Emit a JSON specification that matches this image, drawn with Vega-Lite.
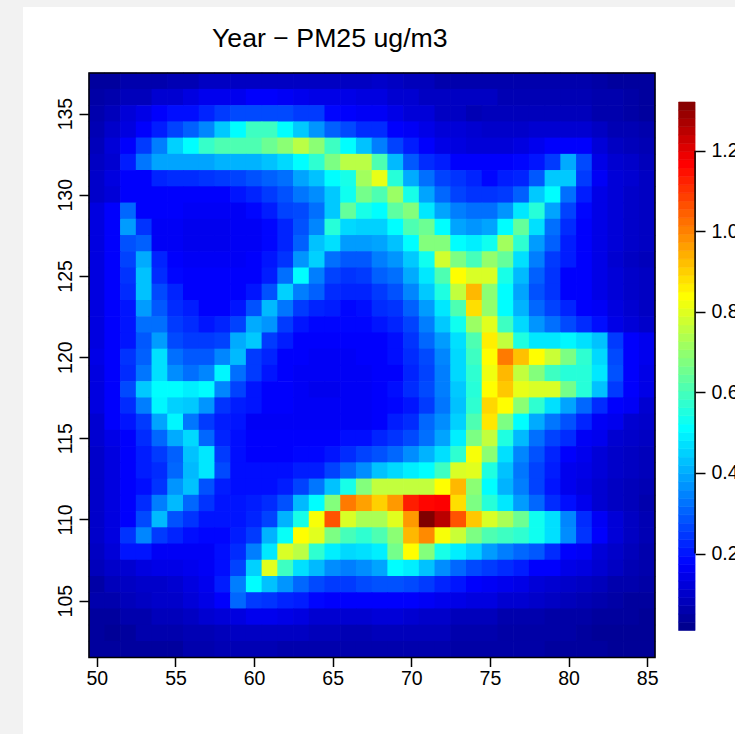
{"$schema":"https://vega.github.io/schema/vega-lite/v6.json","width":712,"height":727,"autosize":{"type":"none"},"padding":{"left":23,"top":7,"right":0,"bottom":0},"background":"#f2f2f2","view":{"fill":"white","stroke":null},"title":{"text":"Year − PM25 ug/m3","anchor":"start","frame":"group","baseline":"alphabetic","offset":-67,"dx":189,"fontSize":26.7,"font":"Liberation Sans","fontWeight":"normal","color":"black"},"config":{"font":"Liberation Sans","axis":{"labelFont":"Liberation Sans","labelFontSize":19.5,"labelColor":"black","tickColor":"black","tickSize":10,"tickWidth":1.5,"grid":false,"domain":false,"title":null}},"datasets":{"cells":[
{"x":50,"y":137,"v":0.03},{"x":51,"y":137,"v":0.03},{"x":52,"y":137,"v":0.05},{"x":53,"y":137,"v":0.05},{"x":54,"y":137,"v":0.05},{"x":55,"y":137,"v":0.06},{"x":56,"y":137,"v":0.06},{"x":57,"y":137,"v":0.08},{"x":58,"y":137,"v":0.08},{"x":59,"y":137,"v":0.08},{"x":60,"y":137,"v":0.08},{"x":61,"y":137,"v":0.08},{"x":62,"y":137,"v":0.08},{"x":63,"y":137,"v":0.08},{"x":64,"y":137,"v":0.08},{"x":65,"y":137,"v":0.08},{"x":66,"y":137,"v":0.08},{"x":67,"y":137,"v":0.08},{"x":68,"y":137,"v":0.09},{"x":69,"y":137,"v":0.08},{"x":70,"y":137,"v":0.07},{"x":71,"y":137,"v":0.07},{"x":72,"y":137,"v":0.05},{"x":73,"y":137,"v":0.05},{"x":74,"y":137,"v":0.05},{"x":75,"y":137,"v":0.05},{"x":76,"y":137,"v":0.05},{"x":77,"y":137,"v":0.05},{"x":78,"y":137,"v":0.05},{"x":79,"y":137,"v":0.05},{"x":80,"y":137,"v":0.05},{"x":81,"y":137,"v":0.05},{"x":82,"y":137,"v":0.04},{"x":83,"y":137,"v":0.03},{"x":84,"y":137,"v":0.03},{"x":85,"y":137,"v":0.03},
{"x":50,"y":136,"v":0.04},{"x":51,"y":136,"v":0.05},{"x":52,"y":136,"v":0.07},{"x":53,"y":136,"v":0.07},{"x":54,"y":136,"v":0.1},{"x":55,"y":136,"v":0.1},{"x":56,"y":136,"v":0.12},{"x":57,"y":136,"v":0.14},{"x":58,"y":136,"v":0.14},{"x":59,"y":136,"v":0.14},{"x":60,"y":136,"v":0.16},{"x":61,"y":136,"v":0.16},{"x":62,"y":136,"v":0.15},{"x":63,"y":136,"v":0.14},{"x":64,"y":136,"v":0.13},{"x":65,"y":136,"v":0.13},{"x":66,"y":136,"v":0.13},{"x":67,"y":136,"v":0.12},{"x":68,"y":136,"v":0.12},{"x":69,"y":136,"v":0.1},{"x":70,"y":136,"v":0.1},{"x":71,"y":136,"v":0.08},{"x":72,"y":136,"v":0.08},{"x":73,"y":136,"v":0.08},{"x":74,"y":136,"v":0.08},{"x":75,"y":136,"v":0.08},{"x":76,"y":136,"v":0.06},{"x":77,"y":136,"v":0.06},{"x":78,"y":136,"v":0.06},{"x":79,"y":136,"v":0.06},{"x":80,"y":136,"v":0.06},{"x":81,"y":136,"v":0.06},{"x":82,"y":136,"v":0.05},{"x":83,"y":136,"v":0.05},{"x":84,"y":136,"v":0.04},{"x":85,"y":136,"v":0.03},
{"x":50,"y":135,"v":0.05},{"x":51,"y":135,"v":0.07},{"x":52,"y":135,"v":0.11},{"x":53,"y":135,"v":0.13},{"x":54,"y":135,"v":0.16},{"x":55,"y":135,"v":0.18},{"x":56,"y":135,"v":0.18},{"x":57,"y":135,"v":0.21},{"x":58,"y":135,"v":0.24},{"x":59,"y":135,"v":0.26},{"x":60,"y":135,"v":0.26},{"x":61,"y":135,"v":0.26},{"x":62,"y":135,"v":0.26},{"x":63,"y":135,"v":0.24},{"x":64,"y":135,"v":0.24},{"x":65,"y":135,"v":0.17},{"x":66,"y":135,"v":0.16},{"x":67,"y":135,"v":0.15},{"x":68,"y":135,"v":0.15},{"x":69,"y":135,"v":0.13},{"x":70,"y":135,"v":0.11},{"x":71,"y":135,"v":0.11},{"x":72,"y":135,"v":0.08},{"x":73,"y":135,"v":0.08},{"x":74,"y":135,"v":0.06},{"x":75,"y":135,"v":0.07},{"x":76,"y":135,"v":0.07},{"x":77,"y":135,"v":0.07},{"x":78,"y":135,"v":0.07},{"x":79,"y":135,"v":0.07},{"x":80,"y":135,"v":0.07},{"x":81,"y":135,"v":0.07},{"x":82,"y":135,"v":0.05},{"x":83,"y":135,"v":0.05},{"x":84,"y":135,"v":0.04},{"x":85,"y":135,"v":0.03},
{"x":50,"y":134,"v":0.06},{"x":51,"y":134,"v":0.09},{"x":52,"y":134,"v":0.12},{"x":53,"y":134,"v":0.16},{"x":54,"y":134,"v":0.2},{"x":55,"y":134,"v":0.25},{"x":56,"y":134,"v":0.29},{"x":57,"y":134,"v":0.34},{"x":58,"y":134,"v":0.43},{"x":59,"y":134,"v":0.5},{"x":60,"y":134,"v":0.58},{"x":61,"y":134,"v":0.58},{"x":62,"y":134,"v":0.5},{"x":63,"y":134,"v":0.43},{"x":64,"y":134,"v":0.36},{"x":65,"y":134,"v":0.29},{"x":66,"y":134,"v":0.26},{"x":67,"y":134,"v":0.22},{"x":68,"y":134,"v":0.22},{"x":69,"y":134,"v":0.16},{"x":70,"y":134,"v":0.15},{"x":71,"y":134,"v":0.13},{"x":72,"y":134,"v":0.11},{"x":73,"y":134,"v":0.11},{"x":74,"y":134,"v":0.1},{"x":75,"y":134,"v":0.09},{"x":76,"y":134,"v":0.09},{"x":77,"y":134,"v":0.09},{"x":78,"y":134,"v":0.1},{"x":79,"y":134,"v":0.1},{"x":80,"y":134,"v":0.1},{"x":81,"y":134,"v":0.1},{"x":82,"y":134,"v":0.08},{"x":83,"y":134,"v":0.06},{"x":84,"y":134,"v":0.06},{"x":85,"y":134,"v":0.05},
{"x":50,"y":133,"v":0.07},{"x":51,"y":133,"v":0.11},{"x":52,"y":133,"v":0.16},{"x":53,"y":133,"v":0.24},{"x":54,"y":133,"v":0.33},{"x":55,"y":133,"v":0.44},{"x":56,"y":133,"v":0.5},{"x":57,"y":133,"v":0.57},{"x":58,"y":133,"v":0.6},{"x":59,"y":133,"v":0.6},{"x":60,"y":133,"v":0.6},{"x":61,"y":133,"v":0.64},{"x":62,"y":133,"v":0.68},{"x":63,"y":133,"v":0.74},{"x":64,"y":133,"v":0.68},{"x":65,"y":133,"v":0.58},{"x":66,"y":133,"v":0.5},{"x":67,"y":133,"v":0.42},{"x":68,"y":133,"v":0.33},{"x":69,"y":133,"v":0.25},{"x":70,"y":133,"v":0.2},{"x":71,"y":133,"v":0.16},{"x":72,"y":133,"v":0.13},{"x":73,"y":133,"v":0.12},{"x":74,"y":133,"v":0.11},{"x":75,"y":133,"v":0.11},{"x":76,"y":133,"v":0.11},{"x":77,"y":133,"v":0.12},{"x":78,"y":133,"v":0.14},{"x":79,"y":133,"v":0.16},{"x":80,"y":133,"v":0.16},{"x":81,"y":133,"v":0.16},{"x":82,"y":133,"v":0.11},{"x":83,"y":133,"v":0.08},{"x":84,"y":133,"v":0.07},{"x":85,"y":133,"v":0.06},
{"x":50,"y":132,"v":0.08},{"x":51,"y":132,"v":0.1},{"x":52,"y":132,"v":0.2},{"x":53,"y":132,"v":0.32},{"x":54,"y":132,"v":0.38},{"x":55,"y":132,"v":0.38},{"x":56,"y":132,"v":0.38},{"x":57,"y":132,"v":0.38},{"x":58,"y":132,"v":0.4},{"x":59,"y":132,"v":0.4},{"x":60,"y":132,"v":0.4},{"x":61,"y":132,"v":0.42},{"x":62,"y":132,"v":0.45},{"x":63,"y":132,"v":0.5},{"x":64,"y":132,"v":0.56},{"x":65,"y":132,"v":0.66},{"x":66,"y":132,"v":0.74},{"x":67,"y":132,"v":0.74},{"x":68,"y":132,"v":0.6},{"x":69,"y":132,"v":0.41},{"x":70,"y":132,"v":0.28},{"x":71,"y":132,"v":0.22},{"x":72,"y":132,"v":0.2},{"x":73,"y":132,"v":0.16},{"x":74,"y":132,"v":0.16},{"x":75,"y":132,"v":0.16},{"x":76,"y":132,"v":0.16},{"x":77,"y":132,"v":0.17},{"x":78,"y":132,"v":0.19},{"x":79,"y":132,"v":0.24},{"x":80,"y":132,"v":0.39},{"x":81,"y":132,"v":0.26},{"x":82,"y":132,"v":0.13},{"x":83,"y":132,"v":0.1},{"x":84,"y":132,"v":0.09},{"x":85,"y":132,"v":0.07},
{"x":50,"y":131,"v":0.09},{"x":51,"y":131,"v":0.12},{"x":52,"y":131,"v":0.16},{"x":53,"y":131,"v":0.16},{"x":54,"y":131,"v":0.21},{"x":55,"y":131,"v":0.22},{"x":56,"y":131,"v":0.22},{"x":57,"y":131,"v":0.23},{"x":58,"y":131,"v":0.24},{"x":59,"y":131,"v":0.25},{"x":60,"y":131,"v":0.27},{"x":61,"y":131,"v":0.29},{"x":62,"y":131,"v":0.31},{"x":63,"y":131,"v":0.38},{"x":64,"y":131,"v":0.42},{"x":65,"y":131,"v":0.5},{"x":66,"y":131,"v":0.53},{"x":67,"y":131,"v":0.71},{"x":68,"y":131,"v":0.8},{"x":69,"y":131,"v":0.55},{"x":70,"y":131,"v":0.39},{"x":71,"y":131,"v":0.31},{"x":72,"y":131,"v":0.25},{"x":73,"y":131,"v":0.23},{"x":74,"y":131,"v":0.21},{"x":75,"y":131,"v":0.17},{"x":76,"y":131,"v":0.2},{"x":77,"y":131,"v":0.21},{"x":78,"y":131,"v":0.28},{"x":79,"y":131,"v":0.43},{"x":80,"y":131,"v":0.43},{"x":81,"y":131,"v":0.24},{"x":82,"y":131,"v":0.15},{"x":83,"y":131,"v":0.11},{"x":84,"y":131,"v":0.1},{"x":85,"y":131,"v":0.08},
{"x":50,"y":130,"v":0.09},{"x":51,"y":130,"v":0.11},{"x":52,"y":130,"v":0.16},{"x":53,"y":130,"v":0.16},{"x":54,"y":130,"v":0.16},{"x":55,"y":130,"v":0.16},{"x":56,"y":130,"v":0.16},{"x":57,"y":130,"v":0.16},{"x":58,"y":130,"v":0.16},{"x":59,"y":130,"v":0.19},{"x":60,"y":130,"v":0.21},{"x":61,"y":130,"v":0.24},{"x":62,"y":130,"v":0.27},{"x":63,"y":130,"v":0.32},{"x":64,"y":130,"v":0.35},{"x":65,"y":130,"v":0.43},{"x":66,"y":130,"v":0.52},{"x":67,"y":130,"v":0.65},{"x":68,"y":130,"v":0.6},{"x":69,"y":130,"v":0.7},{"x":70,"y":130,"v":0.53},{"x":71,"y":130,"v":0.38},{"x":72,"y":130,"v":0.3},{"x":73,"y":130,"v":0.25},{"x":74,"y":130,"v":0.23},{"x":75,"y":130,"v":0.23},{"x":76,"y":130,"v":0.24},{"x":77,"y":130,"v":0.29},{"x":78,"y":130,"v":0.43},{"x":79,"y":130,"v":0.5},{"x":80,"y":130,"v":0.31},{"x":81,"y":130,"v":0.2},{"x":82,"y":130,"v":0.13},{"x":83,"y":130,"v":0.11},{"x":84,"y":130,"v":0.09},{"x":85,"y":130,"v":0.08},
{"x":50,"y":129,"v":0.12},{"x":51,"y":129,"v":0.16},{"x":52,"y":129,"v":0.3},{"x":53,"y":129,"v":0.16},{"x":54,"y":129,"v":0.16},{"x":55,"y":129,"v":0.16},{"x":56,"y":129,"v":0.15},{"x":57,"y":129,"v":0.15},{"x":58,"y":129,"v":0.15},{"x":59,"y":129,"v":0.15},{"x":60,"y":129,"v":0.17},{"x":61,"y":129,"v":0.2},{"x":62,"y":129,"v":0.25},{"x":63,"y":129,"v":0.26},{"x":64,"y":129,"v":0.31},{"x":65,"y":129,"v":0.43},{"x":66,"y":129,"v":0.63},{"x":67,"y":129,"v":0.53},{"x":68,"y":129,"v":0.5},{"x":69,"y":129,"v":0.62},{"x":70,"y":129,"v":0.67},{"x":71,"y":129,"v":0.47},{"x":72,"y":129,"v":0.38},{"x":73,"y":129,"v":0.33},{"x":74,"y":129,"v":0.31},{"x":75,"y":129,"v":0.31},{"x":76,"y":129,"v":0.36},{"x":77,"y":129,"v":0.47},{"x":78,"y":129,"v":0.55},{"x":79,"y":129,"v":0.38},{"x":80,"y":129,"v":0.25},{"x":81,"y":129,"v":0.17},{"x":82,"y":129,"v":0.13},{"x":83,"y":129,"v":0.11},{"x":84,"y":129,"v":0.09},{"x":85,"y":129,"v":0.08},
{"x":50,"y":128,"v":0.12},{"x":51,"y":128,"v":0.16},{"x":52,"y":128,"v":0.37},{"x":53,"y":128,"v":0.23},{"x":54,"y":128,"v":0.15},{"x":55,"y":128,"v":0.15},{"x":56,"y":128,"v":0.14},{"x":57,"y":128,"v":0.14},{"x":58,"y":128,"v":0.14},{"x":59,"y":128,"v":0.15},{"x":60,"y":128,"v":0.15},{"x":61,"y":128,"v":0.17},{"x":62,"y":128,"v":0.21},{"x":63,"y":128,"v":0.27},{"x":64,"y":128,"v":0.34},{"x":65,"y":128,"v":0.55},{"x":66,"y":128,"v":0.45},{"x":67,"y":128,"v":0.44},{"x":68,"y":128,"v":0.44},{"x":69,"y":128,"v":0.5},{"x":70,"y":128,"v":0.6},{"x":71,"y":128,"v":0.64},{"x":72,"y":128,"v":0.5},{"x":73,"y":128,"v":0.38},{"x":74,"y":128,"v":0.36},{"x":75,"y":128,"v":0.38},{"x":76,"y":128,"v":0.5},{"x":77,"y":128,"v":0.63},{"x":78,"y":128,"v":0.46},{"x":79,"y":128,"v":0.31},{"x":80,"y":128,"v":0.22},{"x":81,"y":128,"v":0.16},{"x":82,"y":128,"v":0.13},{"x":83,"y":128,"v":0.11},{"x":84,"y":128,"v":0.09},{"x":85,"y":128,"v":0.08},
{"x":50,"y":127,"v":0.12},{"x":51,"y":127,"v":0.16},{"x":52,"y":127,"v":0.27},{"x":53,"y":127,"v":0.29},{"x":54,"y":127,"v":0.15},{"x":55,"y":127,"v":0.15},{"x":56,"y":127,"v":0.14},{"x":57,"y":127,"v":0.14},{"x":58,"y":127,"v":0.14},{"x":59,"y":127,"v":0.15},{"x":60,"y":127,"v":0.15},{"x":61,"y":127,"v":0.17},{"x":62,"y":127,"v":0.21},{"x":63,"y":127,"v":0.29},{"x":64,"y":127,"v":0.42},{"x":65,"y":127,"v":0.46},{"x":66,"y":127,"v":0.37},{"x":67,"y":127,"v":0.37},{"x":68,"y":127,"v":0.38},{"x":69,"y":127,"v":0.42},{"x":70,"y":127,"v":0.5},{"x":71,"y":127,"v":0.67},{"x":72,"y":127,"v":0.67},{"x":73,"y":127,"v":0.5},{"x":74,"y":127,"v":0.48},{"x":75,"y":127,"v":0.52},{"x":76,"y":127,"v":0.71},{"x":77,"y":127,"v":0.56},{"x":78,"y":127,"v":0.37},{"x":79,"y":127,"v":0.29},{"x":80,"y":127,"v":0.2},{"x":81,"y":127,"v":0.16},{"x":82,"y":127,"v":0.13},{"x":83,"y":127,"v":0.11},{"x":84,"y":127,"v":0.09},{"x":85,"y":127,"v":0.08},
{"x":50,"y":126,"v":0.12},{"x":51,"y":126,"v":0.16},{"x":52,"y":126,"v":0.25},{"x":53,"y":126,"v":0.39},{"x":54,"y":126,"v":0.21},{"x":55,"y":126,"v":0.16},{"x":56,"y":126,"v":0.15},{"x":57,"y":126,"v":0.15},{"x":58,"y":126,"v":0.15},{"x":59,"y":126,"v":0.15},{"x":60,"y":126,"v":0.16},{"x":61,"y":126,"v":0.19},{"x":62,"y":126,"v":0.23},{"x":63,"y":126,"v":0.36},{"x":64,"y":126,"v":0.44},{"x":65,"y":126,"v":0.31},{"x":66,"y":126,"v":0.28},{"x":67,"y":126,"v":0.28},{"x":68,"y":126,"v":0.33},{"x":69,"y":126,"v":0.36},{"x":70,"y":126,"v":0.43},{"x":71,"y":126,"v":0.52},{"x":72,"y":126,"v":0.77},{"x":73,"y":126,"v":0.66},{"x":74,"y":126,"v":0.59},{"x":75,"y":126,"v":0.69},{"x":76,"y":126,"v":0.63},{"x":77,"y":126,"v":0.46},{"x":78,"y":126,"v":0.33},{"x":79,"y":126,"v":0.24},{"x":80,"y":126,"v":0.2},{"x":81,"y":126,"v":0.16},{"x":82,"y":126,"v":0.13},{"x":83,"y":126,"v":0.1},{"x":84,"y":126,"v":0.08},{"x":85,"y":126,"v":0.07},
{"x":50,"y":125,"v":0.12},{"x":51,"y":125,"v":0.16},{"x":52,"y":125,"v":0.23},{"x":53,"y":125,"v":0.42},{"x":54,"y":125,"v":0.22},{"x":55,"y":125,"v":0.17},{"x":56,"y":125,"v":0.16},{"x":57,"y":125,"v":0.16},{"x":58,"y":125,"v":0.16},{"x":59,"y":125,"v":0.16},{"x":60,"y":125,"v":0.16},{"x":61,"y":125,"v":0.2},{"x":62,"y":125,"v":0.31},{"x":63,"y":125,"v":0.5},{"x":64,"y":125,"v":0.33},{"x":65,"y":125,"v":0.25},{"x":66,"y":125,"v":0.23},{"x":67,"y":125,"v":0.24},{"x":68,"y":125,"v":0.29},{"x":69,"y":125,"v":0.31},{"x":70,"y":125,"v":0.39},{"x":71,"y":125,"v":0.47},{"x":72,"y":125,"v":0.6},{"x":73,"y":125,"v":0.83},{"x":74,"y":125,"v":0.78},{"x":75,"y":125,"v":0.78},{"x":76,"y":125,"v":0.53},{"x":77,"y":125,"v":0.41},{"x":78,"y":125,"v":0.29},{"x":79,"y":125,"v":0.23},{"x":80,"y":125,"v":0.16},{"x":81,"y":125,"v":0.16},{"x":82,"y":125,"v":0.13},{"x":83,"y":125,"v":0.11},{"x":84,"y":125,"v":0.09},{"x":85,"y":125,"v":0.08},
{"x":50,"y":124,"v":0.12},{"x":51,"y":124,"v":0.16},{"x":52,"y":124,"v":0.22},{"x":53,"y":124,"v":0.42},{"x":54,"y":124,"v":0.26},{"x":55,"y":124,"v":0.21},{"x":56,"y":124,"v":0.16},{"x":57,"y":124,"v":0.16},{"x":58,"y":124,"v":0.16},{"x":59,"y":124,"v":0.16},{"x":60,"y":124,"v":0.19},{"x":61,"y":124,"v":0.27},{"x":62,"y":124,"v":0.44},{"x":63,"y":124,"v":0.33},{"x":64,"y":124,"v":0.29},{"x":65,"y":124,"v":0.22},{"x":66,"y":124,"v":0.21},{"x":67,"y":124,"v":0.21},{"x":68,"y":124,"v":0.24},{"x":69,"y":124,"v":0.27},{"x":70,"y":124,"v":0.34},{"x":71,"y":124,"v":0.43},{"x":72,"y":124,"v":0.54},{"x":73,"y":124,"v":0.75},{"x":74,"y":124,"v":0.92},{"x":75,"y":124,"v":0.68},{"x":76,"y":124,"v":0.5},{"x":77,"y":124,"v":0.38},{"x":78,"y":124,"v":0.27},{"x":79,"y":124,"v":0.23},{"x":80,"y":124,"v":0.16},{"x":81,"y":124,"v":0.16},{"x":82,"y":124,"v":0.13},{"x":83,"y":124,"v":0.11},{"x":84,"y":124,"v":0.09},{"x":85,"y":124,"v":0.08},
{"x":50,"y":123,"v":0.12},{"x":51,"y":123,"v":0.16},{"x":52,"y":123,"v":0.19},{"x":53,"y":123,"v":0.37},{"x":54,"y":123,"v":0.28},{"x":55,"y":123,"v":0.22},{"x":56,"y":123,"v":0.2},{"x":57,"y":123,"v":0.16},{"x":58,"y":123,"v":0.16},{"x":59,"y":123,"v":0.19},{"x":60,"y":123,"v":0.27},{"x":61,"y":123,"v":0.41},{"x":62,"y":123,"v":0.32},{"x":63,"y":123,"v":0.24},{"x":64,"y":123,"v":0.21},{"x":65,"y":123,"v":0.2},{"x":66,"y":123,"v":0.17},{"x":67,"y":123,"v":0.18},{"x":68,"y":123,"v":0.22},{"x":69,"y":123,"v":0.23},{"x":70,"y":123,"v":0.29},{"x":71,"y":123,"v":0.37},{"x":72,"y":123,"v":0.47},{"x":73,"y":123,"v":0.6},{"x":74,"y":123,"v":0.87},{"x":75,"y":123,"v":0.69},{"x":76,"y":123,"v":0.5},{"x":77,"y":123,"v":0.4},{"x":78,"y":123,"v":0.3},{"x":79,"y":123,"v":0.25},{"x":80,"y":123,"v":0.21},{"x":81,"y":123,"v":0.16},{"x":82,"y":123,"v":0.15},{"x":83,"y":123,"v":0.12},{"x":84,"y":123,"v":0.1},{"x":85,"y":123,"v":0.08},
{"x":50,"y":122,"v":0.12},{"x":51,"y":122,"v":0.16},{"x":52,"y":122,"v":0.19},{"x":53,"y":122,"v":0.31},{"x":54,"y":122,"v":0.31},{"x":55,"y":122,"v":0.24},{"x":56,"y":122,"v":0.22},{"x":57,"y":122,"v":0.19},{"x":58,"y":122,"v":0.21},{"x":59,"y":122,"v":0.25},{"x":60,"y":122,"v":0.39},{"x":61,"y":122,"v":0.36},{"x":62,"y":122,"v":0.24},{"x":63,"y":122,"v":0.19},{"x":64,"y":122,"v":0.17},{"x":65,"y":122,"v":0.17},{"x":66,"y":122,"v":0.17},{"x":67,"y":122,"v":0.17},{"x":68,"y":122,"v":0.19},{"x":69,"y":122,"v":0.21},{"x":70,"y":122,"v":0.25},{"x":71,"y":122,"v":0.33},{"x":72,"y":122,"v":0.43},{"x":73,"y":122,"v":0.52},{"x":74,"y":122,"v":0.7},{"x":75,"y":122,"v":0.79},{"x":76,"y":122,"v":0.58},{"x":77,"y":122,"v":0.45},{"x":78,"y":122,"v":0.36},{"x":79,"y":122,"v":0.31},{"x":80,"y":122,"v":0.26},{"x":81,"y":122,"v":0.22},{"x":82,"y":122,"v":0.18},{"x":83,"y":122,"v":0.13},{"x":84,"y":122,"v":0.11},{"x":85,"y":122,"v":0.09},
{"x":50,"y":121,"v":0.12},{"x":51,"y":121,"v":0.16},{"x":52,"y":121,"v":0.19},{"x":53,"y":121,"v":0.28},{"x":54,"y":121,"v":0.37},{"x":55,"y":121,"v":0.26},{"x":56,"y":121,"v":0.24},{"x":57,"y":121,"v":0.24},{"x":58,"y":121,"v":0.25},{"x":59,"y":121,"v":0.39},{"x":60,"y":121,"v":0.43},{"x":61,"y":121,"v":0.24},{"x":62,"y":121,"v":0.2},{"x":63,"y":121,"v":0.16},{"x":64,"y":121,"v":0.16},{"x":65,"y":121,"v":0.16},{"x":66,"y":121,"v":0.16},{"x":67,"y":121,"v":0.16},{"x":68,"y":121,"v":0.16},{"x":69,"y":121,"v":0.18},{"x":70,"y":121,"v":0.23},{"x":71,"y":121,"v":0.3},{"x":72,"y":121,"v":0.37},{"x":73,"y":121,"v":0.46},{"x":74,"y":121,"v":0.6},{"x":75,"y":121,"v":0.85},{"x":76,"y":121,"v":0.75},{"x":77,"y":121,"v":0.54},{"x":78,"y":121,"v":0.47},{"x":79,"y":121,"v":0.47},{"x":80,"y":121,"v":0.49},{"x":81,"y":121,"v":0.46},{"x":82,"y":121,"v":0.42},{"x":83,"y":121,"v":0.24},{"x":84,"y":121,"v":0.16},{"x":85,"y":121,"v":0.14},
{"x":50,"y":120,"v":0.13},{"x":51,"y":120,"v":0.16},{"x":52,"y":120,"v":0.23},{"x":53,"y":120,"v":0.29},{"x":54,"y":120,"v":0.46},{"x":55,"y":120,"v":0.31},{"x":56,"y":120,"v":0.28},{"x":57,"y":120,"v":0.28},{"x":58,"y":120,"v":0.34},{"x":59,"y":120,"v":0.41},{"x":60,"y":120,"v":0.24},{"x":61,"y":120,"v":0.21},{"x":62,"y":120,"v":0.16},{"x":63,"y":120,"v":0.16},{"x":64,"y":120,"v":0.15},{"x":65,"y":120,"v":0.15},{"x":66,"y":120,"v":0.15},{"x":67,"y":120,"v":0.16},{"x":68,"y":120,"v":0.16},{"x":69,"y":120,"v":0.18},{"x":70,"y":120,"v":0.22},{"x":71,"y":120,"v":0.26},{"x":72,"y":120,"v":0.34},{"x":73,"y":120,"v":0.45},{"x":74,"y":120,"v":0.58},{"x":75,"y":120,"v":0.83},{"x":76,"y":120,"v":1.0},{"x":77,"y":120,"v":0.91},{"x":78,"y":120,"v":0.83},{"x":79,"y":120,"v":0.76},{"x":80,"y":120,"v":0.66},{"x":81,"y":120,"v":0.56},{"x":82,"y":120,"v":0.45},{"x":83,"y":120,"v":0.26},{"x":84,"y":120,"v":0.16},{"x":85,"y":120,"v":0.14},
{"x":50,"y":119,"v":0.12},{"x":51,"y":119,"v":0.16},{"x":52,"y":119,"v":0.22},{"x":53,"y":119,"v":0.32},{"x":54,"y":119,"v":0.46},{"x":55,"y":119,"v":0.35},{"x":56,"y":119,"v":0.31},{"x":57,"y":119,"v":0.34},{"x":58,"y":119,"v":0.49},{"x":59,"y":119,"v":0.31},{"x":60,"y":119,"v":0.24},{"x":61,"y":119,"v":0.19},{"x":62,"y":119,"v":0.16},{"x":63,"y":119,"v":0.15},{"x":64,"y":119,"v":0.15},{"x":65,"y":119,"v":0.15},{"x":66,"y":119,"v":0.15},{"x":67,"y":119,"v":0.15},{"x":68,"y":119,"v":0.16},{"x":69,"y":119,"v":0.16},{"x":70,"y":119,"v":0.21},{"x":71,"y":119,"v":0.25},{"x":72,"y":119,"v":0.33},{"x":73,"y":119,"v":0.45},{"x":74,"y":119,"v":0.56},{"x":75,"y":119,"v":0.81},{"x":76,"y":119,"v":0.92},{"x":77,"y":119,"v":0.75},{"x":78,"y":119,"v":0.67},{"x":79,"y":119,"v":0.58},{"x":80,"y":119,"v":0.55},{"x":81,"y":119,"v":0.55},{"x":82,"y":119,"v":0.47},{"x":83,"y":119,"v":0.27},{"x":84,"y":119,"v":0.16},{"x":85,"y":119,"v":0.13},
{"x":50,"y":118,"v":0.12},{"x":51,"y":118,"v":0.16},{"x":52,"y":118,"v":0.26},{"x":53,"y":118,"v":0.43},{"x":54,"y":118,"v":0.5},{"x":55,"y":118,"v":0.5},{"x":56,"y":118,"v":0.48},{"x":57,"y":118,"v":0.5},{"x":58,"y":118,"v":0.34},{"x":59,"y":118,"v":0.25},{"x":60,"y":118,"v":0.19},{"x":61,"y":118,"v":0.16},{"x":62,"y":118,"v":0.16},{"x":63,"y":118,"v":0.15},{"x":64,"y":118,"v":0.14},{"x":65,"y":118,"v":0.14},{"x":66,"y":118,"v":0.15},{"x":67,"y":118,"v":0.15},{"x":68,"y":118,"v":0.16},{"x":69,"y":118,"v":0.18},{"x":70,"y":118,"v":0.22},{"x":71,"y":118,"v":0.26},{"x":72,"y":118,"v":0.33},{"x":73,"y":118,"v":0.43},{"x":74,"y":118,"v":0.55},{"x":75,"y":118,"v":0.83},{"x":76,"y":118,"v":0.9},{"x":77,"y":118,"v":0.8},{"x":78,"y":118,"v":0.78},{"x":79,"y":118,"v":0.78},{"x":80,"y":118,"v":0.65},{"x":81,"y":118,"v":0.55},{"x":82,"y":118,"v":0.42},{"x":83,"y":118,"v":0.24},{"x":84,"y":118,"v":0.16},{"x":85,"y":118,"v":0.13},
{"x":50,"y":117,"v":0.12},{"x":51,"y":117,"v":0.16},{"x":52,"y":117,"v":0.22},{"x":53,"y":117,"v":0.33},{"x":54,"y":117,"v":0.49},{"x":55,"y":117,"v":0.44},{"x":56,"y":117,"v":0.43},{"x":57,"y":117,"v":0.36},{"x":58,"y":117,"v":0.23},{"x":59,"y":117,"v":0.2},{"x":60,"y":117,"v":0.19},{"x":61,"y":117,"v":0.16},{"x":62,"y":117,"v":0.16},{"x":63,"y":117,"v":0.15},{"x":64,"y":117,"v":0.15},{"x":65,"y":117,"v":0.15},{"x":66,"y":117,"v":0.15},{"x":67,"y":117,"v":0.15},{"x":68,"y":117,"v":0.16},{"x":69,"y":117,"v":0.17},{"x":70,"y":117,"v":0.19},{"x":71,"y":117,"v":0.24},{"x":72,"y":117,"v":0.32},{"x":73,"y":117,"v":0.42},{"x":74,"y":117,"v":0.56},{"x":75,"y":117,"v":0.88},{"x":76,"y":117,"v":0.83},{"x":77,"y":117,"v":0.68},{"x":78,"y":117,"v":0.56},{"x":79,"y":117,"v":0.46},{"x":80,"y":117,"v":0.38},{"x":81,"y":117,"v":0.3},{"x":82,"y":117,"v":0.22},{"x":83,"y":117,"v":0.16},{"x":84,"y":117,"v":0.15},{"x":85,"y":117,"v":0.1},
{"x":50,"y":116,"v":0.1},{"x":51,"y":116,"v":0.16},{"x":52,"y":116,"v":0.19},{"x":53,"y":116,"v":0.24},{"x":54,"y":116,"v":0.38},{"x":55,"y":116,"v":0.49},{"x":56,"y":116,"v":0.32},{"x":57,"y":116,"v":0.24},{"x":58,"y":116,"v":0.2},{"x":59,"y":116,"v":0.19},{"x":60,"y":116,"v":0.15},{"x":61,"y":116,"v":0.15},{"x":62,"y":116,"v":0.15},{"x":63,"y":116,"v":0.15},{"x":64,"y":116,"v":0.15},{"x":65,"y":116,"v":0.15},{"x":66,"y":116,"v":0.15},{"x":67,"y":116,"v":0.15},{"x":68,"y":116,"v":0.16},{"x":69,"y":116,"v":0.2},{"x":70,"y":116,"v":0.22},{"x":71,"y":116,"v":0.3},{"x":72,"y":116,"v":0.35},{"x":73,"y":116,"v":0.44},{"x":74,"y":116,"v":0.6},{"x":75,"y":116,"v":0.86},{"x":76,"y":116,"v":0.66},{"x":77,"y":116,"v":0.5},{"x":78,"y":116,"v":0.39},{"x":79,"y":116,"v":0.32},{"x":80,"y":116,"v":0.27},{"x":81,"y":116,"v":0.21},{"x":82,"y":116,"v":0.15},{"x":83,"y":116,"v":0.14},{"x":84,"y":116,"v":0.1},{"x":85,"y":116,"v":0.09},
{"x":50,"y":115,"v":0.1},{"x":51,"y":115,"v":0.13},{"x":52,"y":115,"v":0.16},{"x":53,"y":115,"v":0.22},{"x":54,"y":115,"v":0.3},{"x":55,"y":115,"v":0.39},{"x":56,"y":115,"v":0.45},{"x":57,"y":115,"v":0.3},{"x":58,"y":115,"v":0.21},{"x":59,"y":115,"v":0.18},{"x":60,"y":115,"v":0.16},{"x":61,"y":115,"v":0.16},{"x":62,"y":115,"v":0.16},{"x":63,"y":115,"v":0.16},{"x":64,"y":115,"v":0.16},{"x":65,"y":115,"v":0.16},{"x":66,"y":115,"v":0.18},{"x":67,"y":115,"v":0.18},{"x":68,"y":115,"v":0.21},{"x":69,"y":115,"v":0.23},{"x":70,"y":115,"v":0.26},{"x":71,"y":115,"v":0.31},{"x":72,"y":115,"v":0.38},{"x":73,"y":115,"v":0.48},{"x":74,"y":115,"v":0.66},{"x":75,"y":115,"v":0.75},{"x":76,"y":115,"v":0.54},{"x":77,"y":115,"v":0.41},{"x":78,"y":115,"v":0.31},{"x":79,"y":115,"v":0.25},{"x":80,"y":115,"v":0.22},{"x":81,"y":115,"v":0.15},{"x":82,"y":115,"v":0.14},{"x":83,"y":115,"v":0.1},{"x":84,"y":115,"v":0.09},{"x":85,"y":115,"v":0.08},
{"x":50,"y":114,"v":0.09},{"x":51,"y":114,"v":0.12},{"x":52,"y":114,"v":0.16},{"x":53,"y":114,"v":0.2},{"x":54,"y":114,"v":0.24},{"x":55,"y":114,"v":0.29},{"x":56,"y":114,"v":0.42},{"x":57,"y":114,"v":0.47},{"x":58,"y":114,"v":0.24},{"x":59,"y":114,"v":0.18},{"x":60,"y":114,"v":0.16},{"x":61,"y":114,"v":0.16},{"x":62,"y":114,"v":0.16},{"x":63,"y":114,"v":0.17},{"x":64,"y":114,"v":0.17},{"x":65,"y":114,"v":0.19},{"x":66,"y":114,"v":0.22},{"x":67,"y":114,"v":0.25},{"x":68,"y":114,"v":0.27},{"x":69,"y":114,"v":0.3},{"x":70,"y":114,"v":0.35},{"x":71,"y":114,"v":0.4},{"x":72,"y":114,"v":0.46},{"x":73,"y":114,"v":0.56},{"x":74,"y":114,"v":0.82},{"x":75,"y":114,"v":0.68},{"x":76,"y":114,"v":0.46},{"x":77,"y":114,"v":0.34},{"x":78,"y":114,"v":0.27},{"x":79,"y":114,"v":0.21},{"x":80,"y":114,"v":0.16},{"x":81,"y":114,"v":0.14},{"x":82,"y":114,"v":0.11},{"x":83,"y":114,"v":0.09},{"x":84,"y":114,"v":0.08},{"x":85,"y":114,"v":0.07},
{"x":50,"y":113,"v":0.09},{"x":51,"y":113,"v":0.12},{"x":52,"y":113,"v":0.16},{"x":53,"y":113,"v":0.2},{"x":54,"y":113,"v":0.22},{"x":55,"y":113,"v":0.3},{"x":56,"y":113,"v":0.41},{"x":57,"y":113,"v":0.47},{"x":58,"y":113,"v":0.26},{"x":59,"y":113,"v":0.18},{"x":60,"y":113,"v":0.18},{"x":61,"y":113,"v":0.18},{"x":62,"y":113,"v":0.18},{"x":63,"y":113,"v":0.2},{"x":64,"y":113,"v":0.2},{"x":65,"y":113,"v":0.25},{"x":66,"y":113,"v":0.3},{"x":67,"y":113,"v":0.35},{"x":68,"y":113,"v":0.42},{"x":69,"y":113,"v":0.45},{"x":70,"y":113,"v":0.48},{"x":71,"y":113,"v":0.5},{"x":72,"y":113,"v":0.58},{"x":73,"y":113,"v":0.78},{"x":74,"y":113,"v":0.79},{"x":75,"y":113,"v":0.54},{"x":76,"y":113,"v":0.42},{"x":77,"y":113,"v":0.32},{"x":78,"y":113,"v":0.25},{"x":79,"y":113,"v":0.2},{"x":80,"y":113,"v":0.14},{"x":81,"y":113,"v":0.13},{"x":82,"y":113,"v":0.11},{"x":83,"y":113,"v":0.09},{"x":84,"y":113,"v":0.08},{"x":85,"y":113,"v":0.07},
{"x":50,"y":112,"v":0.09},{"x":51,"y":112,"v":0.12},{"x":52,"y":112,"v":0.16},{"x":53,"y":112,"v":0.18},{"x":54,"y":112,"v":0.23},{"x":55,"y":112,"v":0.36},{"x":56,"y":112,"v":0.42},{"x":57,"y":112,"v":0.27},{"x":58,"y":112,"v":0.2},{"x":59,"y":112,"v":0.18},{"x":60,"y":112,"v":0.18},{"x":61,"y":112,"v":0.18},{"x":62,"y":112,"v":0.2},{"x":63,"y":112,"v":0.25},{"x":64,"y":112,"v":0.32},{"x":65,"y":112,"v":0.42},{"x":66,"y":112,"v":0.53},{"x":67,"y":112,"v":0.67},{"x":68,"y":112,"v":0.75},{"x":69,"y":112,"v":0.75},{"x":70,"y":112,"v":0.75},{"x":71,"y":112,"v":0.75},{"x":72,"y":112,"v":0.83},{"x":73,"y":112,"v":0.92},{"x":74,"y":112,"v":0.68},{"x":75,"y":112,"v":0.5},{"x":76,"y":112,"v":0.4},{"x":77,"y":112,"v":0.33},{"x":78,"y":112,"v":0.25},{"x":79,"y":112,"v":0.19},{"x":80,"y":112,"v":0.14},{"x":81,"y":112,"v":0.12},{"x":82,"y":112,"v":0.1},{"x":83,"y":112,"v":0.08},{"x":84,"y":112,"v":0.07},{"x":85,"y":112,"v":0.06},
{"x":50,"y":111,"v":0.09},{"x":51,"y":111,"v":0.12},{"x":52,"y":111,"v":0.16},{"x":53,"y":111,"v":0.22},{"x":54,"y":111,"v":0.33},{"x":55,"y":111,"v":0.41},{"x":56,"y":111,"v":0.3},{"x":57,"y":111,"v":0.23},{"x":58,"y":111,"v":0.19},{"x":59,"y":111,"v":0.19},{"x":60,"y":111,"v":0.2},{"x":61,"y":111,"v":0.22},{"x":62,"y":111,"v":0.27},{"x":63,"y":111,"v":0.41},{"x":64,"y":111,"v":0.5},{"x":65,"y":111,"v":0.67},{"x":66,"y":111,"v":1.0},{"x":67,"y":111,"v":0.95},{"x":68,"y":111,"v":0.89},{"x":69,"y":111,"v":0.96},{"x":70,"y":111,"v":1.12},{"x":71,"y":111,"v":1.15},{"x":72,"y":111,"v":1.16},{"x":73,"y":111,"v":0.87},{"x":74,"y":111,"v":0.66},{"x":75,"y":111,"v":0.55},{"x":76,"y":111,"v":0.47},{"x":77,"y":111,"v":0.37},{"x":78,"y":111,"v":0.3},{"x":79,"y":111,"v":0.22},{"x":80,"y":111,"v":0.18},{"x":81,"y":111,"v":0.14},{"x":82,"y":111,"v":0.1},{"x":83,"y":111,"v":0.08},{"x":84,"y":111,"v":0.07},{"x":85,"y":111,"v":0.05},
{"x":50,"y":110,"v":0.09},{"x":51,"y":110,"v":0.12},{"x":52,"y":110,"v":0.16},{"x":53,"y":110,"v":0.26},{"x":54,"y":110,"v":0.41},{"x":55,"y":110,"v":0.27},{"x":56,"y":110,"v":0.23},{"x":57,"y":110,"v":0.19},{"x":58,"y":110,"v":0.19},{"x":59,"y":110,"v":0.19},{"x":60,"y":110,"v":0.21},{"x":61,"y":110,"v":0.25},{"x":62,"y":110,"v":0.4},{"x":63,"y":110,"v":0.53},{"x":64,"y":110,"v":0.82},{"x":65,"y":110,"v":1.05},{"x":66,"y":110,"v":0.78},{"x":67,"y":110,"v":0.72},{"x":68,"y":110,"v":0.72},{"x":69,"y":110,"v":0.79},{"x":70,"y":110,"v":0.96},{"x":71,"y":110,"v":1.31},{"x":72,"y":110,"v":1.24},{"x":73,"y":110,"v":1.05},{"x":74,"y":110,"v":0.9},{"x":75,"y":110,"v":0.78},{"x":76,"y":110,"v":0.72},{"x":77,"y":110,"v":0.64},{"x":78,"y":110,"v":0.52},{"x":79,"y":110,"v":0.46},{"x":80,"y":110,"v":0.34},{"x":81,"y":110,"v":0.22},{"x":82,"y":110,"v":0.15},{"x":83,"y":110,"v":0.11},{"x":84,"y":110,"v":0.08},{"x":85,"y":110,"v":0.06},
{"x":50,"y":109,"v":0.09},{"x":51,"y":109,"v":0.12},{"x":52,"y":109,"v":0.23},{"x":53,"y":109,"v":0.34},{"x":54,"y":109,"v":0.24},{"x":55,"y":109,"v":0.21},{"x":56,"y":109,"v":0.18},{"x":57,"y":109,"v":0.17},{"x":58,"y":109,"v":0.17},{"x":59,"y":109,"v":0.2},{"x":60,"y":109,"v":0.24},{"x":61,"y":109,"v":0.4},{"x":62,"y":109,"v":0.51},{"x":63,"y":109,"v":0.83},{"x":64,"y":109,"v":0.79},{"x":65,"y":109,"v":0.66},{"x":66,"y":109,"v":0.59},{"x":67,"y":109,"v":0.56},{"x":68,"y":109,"v":0.6},{"x":69,"y":109,"v":0.68},{"x":70,"y":109,"v":0.92},{"x":71,"y":109,"v":0.98},{"x":72,"y":109,"v":0.82},{"x":73,"y":109,"v":0.76},{"x":74,"y":109,"v":0.66},{"x":75,"y":109,"v":0.6},{"x":76,"y":109,"v":0.58},{"x":77,"y":109,"v":0.56},{"x":78,"y":109,"v":0.52},{"x":79,"y":109,"v":0.46},{"x":80,"y":109,"v":0.35},{"x":81,"y":109,"v":0.23},{"x":82,"y":109,"v":0.16},{"x":83,"y":109,"v":0.11},{"x":84,"y":109,"v":0.08},{"x":85,"y":109,"v":0.06},
{"x":50,"y":108,"v":0.08},{"x":51,"y":108,"v":0.11},{"x":52,"y":108,"v":0.19},{"x":53,"y":108,"v":0.19},{"x":54,"y":108,"v":0.15},{"x":55,"y":108,"v":0.15},{"x":56,"y":108,"v":0.15},{"x":57,"y":108,"v":0.15},{"x":58,"y":108,"v":0.18},{"x":59,"y":108,"v":0.22},{"x":60,"y":108,"v":0.33},{"x":61,"y":108,"v":0.47},{"x":62,"y":108,"v":0.78},{"x":63,"y":108,"v":0.74},{"x":64,"y":108,"v":0.56},{"x":65,"y":108,"v":0.48},{"x":66,"y":108,"v":0.45},{"x":67,"y":108,"v":0.46},{"x":68,"y":108,"v":0.48},{"x":69,"y":108,"v":0.65},{"x":70,"y":108,"v":0.83},{"x":71,"y":108,"v":0.67},{"x":72,"y":108,"v":0.53},{"x":73,"y":108,"v":0.48},{"x":74,"y":108,"v":0.44},{"x":75,"y":108,"v":0.37},{"x":76,"y":108,"v":0.33},{"x":77,"y":108,"v":0.3},{"x":78,"y":108,"v":0.28},{"x":79,"y":108,"v":0.22},{"x":80,"y":108,"v":0.16},{"x":81,"y":108,"v":0.15},{"x":82,"y":108,"v":0.11},{"x":83,"y":108,"v":0.09},{"x":84,"y":108,"v":0.07},{"x":85,"y":108,"v":0.05},
{"x":50,"y":107,"v":0.07},{"x":51,"y":107,"v":0.09},{"x":52,"y":107,"v":0.1},{"x":53,"y":107,"v":0.12},{"x":54,"y":107,"v":0.13},{"x":55,"y":107,"v":0.13},{"x":56,"y":107,"v":0.14},{"x":57,"y":107,"v":0.15},{"x":58,"y":107,"v":0.18},{"x":59,"y":107,"v":0.25},{"x":60,"y":107,"v":0.44},{"x":61,"y":107,"v":0.79},{"x":62,"y":107,"v":0.58},{"x":63,"y":107,"v":0.46},{"x":64,"y":107,"v":0.41},{"x":65,"y":107,"v":0.35},{"x":66,"y":107,"v":0.33},{"x":67,"y":107,"v":0.35},{"x":68,"y":107,"v":0.38},{"x":69,"y":107,"v":0.5},{"x":70,"y":107,"v":0.48},{"x":71,"y":107,"v":0.42},{"x":72,"y":107,"v":0.35},{"x":73,"y":107,"v":0.3},{"x":74,"y":107,"v":0.26},{"x":75,"y":107,"v":0.24},{"x":76,"y":107,"v":0.22},{"x":77,"y":107,"v":0.2},{"x":78,"y":107,"v":0.16},{"x":79,"y":107,"v":0.16},{"x":80,"y":107,"v":0.13},{"x":81,"y":107,"v":0.12},{"x":82,"y":107,"v":0.1},{"x":83,"y":107,"v":0.08},{"x":84,"y":107,"v":0.06},{"x":85,"y":107,"v":0.05},
{"x":50,"y":106,"v":0.04},{"x":51,"y":106,"v":0.07},{"x":52,"y":106,"v":0.08},{"x":53,"y":106,"v":0.09},{"x":54,"y":106,"v":0.09},{"x":55,"y":106,"v":0.1},{"x":56,"y":106,"v":0.12},{"x":57,"y":106,"v":0.14},{"x":58,"y":106,"v":0.2},{"x":59,"y":106,"v":0.33},{"x":60,"y":106,"v":0.5},{"x":61,"y":106,"v":0.42},{"x":62,"y":106,"v":0.36},{"x":63,"y":106,"v":0.3},{"x":64,"y":106,"v":0.26},{"x":65,"y":106,"v":0.24},{"x":66,"y":106,"v":0.24},{"x":67,"y":106,"v":0.26},{"x":68,"y":106,"v":0.27},{"x":69,"y":106,"v":0.27},{"x":70,"y":106,"v":0.26},{"x":71,"y":106,"v":0.24},{"x":72,"y":106,"v":0.21},{"x":73,"y":106,"v":0.19},{"x":74,"y":106,"v":0.16},{"x":75,"y":106,"v":0.15},{"x":76,"y":106,"v":0.14},{"x":77,"y":106,"v":0.13},{"x":78,"y":106,"v":0.11},{"x":79,"y":106,"v":0.1},{"x":80,"y":106,"v":0.09},{"x":81,"y":106,"v":0.08},{"x":82,"y":106,"v":0.07},{"x":83,"y":106,"v":0.05},{"x":84,"y":106,"v":0.05},{"x":85,"y":106,"v":0.04},
{"x":50,"y":105,"v":0.05},{"x":51,"y":105,"v":0.05},{"x":52,"y":105,"v":0.07},{"x":53,"y":105,"v":0.08},{"x":54,"y":105,"v":0.09},{"x":55,"y":105,"v":0.09},{"x":56,"y":105,"v":0.11},{"x":57,"y":105,"v":0.13},{"x":58,"y":105,"v":0.16},{"x":59,"y":105,"v":0.3},{"x":60,"y":105,"v":0.24},{"x":61,"y":105,"v":0.23},{"x":62,"y":105,"v":0.21},{"x":63,"y":105,"v":0.2},{"x":64,"y":105,"v":0.17},{"x":65,"y":105,"v":0.16},{"x":66,"y":105,"v":0.16},{"x":67,"y":105,"v":0.16},{"x":68,"y":105,"v":0.16},{"x":69,"y":105,"v":0.16},{"x":70,"y":105,"v":0.16},{"x":71,"y":105,"v":0.15},{"x":72,"y":105,"v":0.14},{"x":73,"y":105,"v":0.13},{"x":74,"y":105,"v":0.12},{"x":75,"y":105,"v":0.12},{"x":76,"y":105,"v":0.1},{"x":77,"y":105,"v":0.1},{"x":78,"y":105,"v":0.09},{"x":79,"y":105,"v":0.08},{"x":80,"y":105,"v":0.07},{"x":81,"y":105,"v":0.06},{"x":82,"y":105,"v":0.05},{"x":83,"y":105,"v":0.04},{"x":84,"y":105,"v":0.03},{"x":85,"y":105,"v":0.03},
{"x":50,"y":104,"v":0.03},{"x":51,"y":104,"v":0.03},{"x":52,"y":104,"v":0.05},{"x":53,"y":104,"v":0.05},{"x":54,"y":104,"v":0.07},{"x":55,"y":104,"v":0.07},{"x":56,"y":104,"v":0.08},{"x":57,"y":104,"v":0.1},{"x":58,"y":104,"v":0.11},{"x":59,"y":104,"v":0.12},{"x":60,"y":104,"v":0.14},{"x":61,"y":104,"v":0.14},{"x":62,"y":104,"v":0.13},{"x":63,"y":104,"v":0.12},{"x":64,"y":104,"v":0.1},{"x":65,"y":104,"v":0.1},{"x":66,"y":104,"v":0.1},{"x":67,"y":104,"v":0.1},{"x":68,"y":104,"v":0.11},{"x":69,"y":104,"v":0.11},{"x":70,"y":104,"v":0.1},{"x":71,"y":104,"v":0.09},{"x":72,"y":104,"v":0.09},{"x":73,"y":104,"v":0.07},{"x":74,"y":104,"v":0.07},{"x":75,"y":104,"v":0.07},{"x":76,"y":104,"v":0.05},{"x":77,"y":104,"v":0.05},{"x":78,"y":104,"v":0.05},{"x":79,"y":104,"v":0.04},{"x":80,"y":104,"v":0.04},{"x":81,"y":104,"v":0.04},{"x":82,"y":104,"v":0.03},{"x":83,"y":104,"v":0.03},{"x":84,"y":104,"v":0.03},{"x":85,"y":104,"v":0.02},
{"x":50,"y":103,"v":0.03},{"x":51,"y":103,"v":0.02},{"x":52,"y":103,"v":0.03},{"x":53,"y":103,"v":0.05},{"x":54,"y":103,"v":0.05},{"x":55,"y":103,"v":0.05},{"x":56,"y":103,"v":0.06},{"x":57,"y":103,"v":0.06},{"x":58,"y":103,"v":0.07},{"x":59,"y":103,"v":0.08},{"x":60,"y":103,"v":0.08},{"x":61,"y":103,"v":0.08},{"x":62,"y":103,"v":0.08},{"x":63,"y":103,"v":0.08},{"x":64,"y":103,"v":0.07},{"x":65,"y":103,"v":0.07},{"x":66,"y":103,"v":0.06},{"x":67,"y":103,"v":0.06},{"x":68,"y":103,"v":0.07},{"x":69,"y":103,"v":0.07},{"x":70,"y":103,"v":0.07},{"x":71,"y":103,"v":0.07},{"x":72,"y":103,"v":0.07},{"x":73,"y":103,"v":0.05},{"x":74,"y":103,"v":0.05},{"x":75,"y":103,"v":0.05},{"x":76,"y":103,"v":0.04},{"x":77,"y":103,"v":0.04},{"x":78,"y":103,"v":0.04},{"x":79,"y":103,"v":0.04},{"x":80,"y":103,"v":0.04},{"x":81,"y":103,"v":0.03},{"x":82,"y":103,"v":0.02},{"x":83,"y":103,"v":0.02},{"x":84,"y":103,"v":0.02},{"x":85,"y":103,"v":0.02},
{"x":50,"y":102,"v":0.03},{"x":51,"y":102,"v":0.03},{"x":52,"y":102,"v":0.03},{"x":53,"y":102,"v":0.03},{"x":54,"y":102,"v":0.03},{"x":55,"y":102,"v":0.03},{"x":56,"y":102,"v":0.05},{"x":57,"y":102,"v":0.05},{"x":58,"y":102,"v":0.06},{"x":59,"y":102,"v":0.06},{"x":60,"y":102,"v":0.06},{"x":61,"y":102,"v":0.06},{"x":62,"y":102,"v":0.05},{"x":63,"y":102,"v":0.05},{"x":64,"y":102,"v":0.05},{"x":65,"y":102,"v":0.05},{"x":66,"y":102,"v":0.05},{"x":67,"y":102,"v":0.05},{"x":68,"y":102,"v":0.05},{"x":69,"y":102,"v":0.05},{"x":70,"y":102,"v":0.05},{"x":71,"y":102,"v":0.05},{"x":72,"y":102,"v":0.05},{"x":73,"y":102,"v":0.04},{"x":74,"y":102,"v":0.04},{"x":75,"y":102,"v":0.04},{"x":76,"y":102,"v":0.04},{"x":77,"y":102,"v":0.04},{"x":78,"y":102,"v":0.04},{"x":79,"y":102,"v":0.03},{"x":80,"y":102,"v":0.03},{"x":81,"y":102,"v":0.03},{"x":82,"y":102,"v":0.03},{"x":83,"y":102,"v":0.02},{"x":84,"y":102,"v":0.02},{"x":85,"y":102,"v":0.02}
],"levels":[{"lo":0.009,"hi":0.0295},{"lo":0.0295,"hi":0.05},{"lo":0.05,"hi":0.0705},{"lo":0.0705,"hi":0.091},{"lo":0.091,"hi":0.1115},{"lo":0.1115,"hi":0.132},{"lo":0.132,"hi":0.1525},{"lo":0.1525,"hi":0.173},{"lo":0.173,"hi":0.1935},{"lo":0.1935,"hi":0.214},{"lo":0.214,"hi":0.2345},{"lo":0.2345,"hi":0.255},{"lo":0.255,"hi":0.2755},{"lo":0.2755,"hi":0.296},{"lo":0.296,"hi":0.3165},{"lo":0.3165,"hi":0.337},{"lo":0.337,"hi":0.3575},{"lo":0.3575,"hi":0.378},{"lo":0.378,"hi":0.3985},{"lo":0.3985,"hi":0.419},{"lo":0.419,"hi":0.4395},{"lo":0.4395,"hi":0.46},{"lo":0.46,"hi":0.4805},{"lo":0.4805,"hi":0.501},{"lo":0.501,"hi":0.5215},{"lo":0.5215,"hi":0.542},{"lo":0.542,"hi":0.5625},{"lo":0.5625,"hi":0.583},{"lo":0.583,"hi":0.6035},{"lo":0.6035,"hi":0.624},{"lo":0.624,"hi":0.6445},{"lo":0.6445,"hi":0.665},{"lo":0.665,"hi":0.6855},{"lo":0.6855,"hi":0.706},{"lo":0.706,"hi":0.7265},{"lo":0.7265,"hi":0.747},{"lo":0.747,"hi":0.7675},{"lo":0.7675,"hi":0.788},{"lo":0.788,"hi":0.8085},{"lo":0.8085,"hi":0.829},{"lo":0.829,"hi":0.8495},{"lo":0.8495,"hi":0.87},{"lo":0.87,"hi":0.8905},{"lo":0.8905,"hi":0.911},{"lo":0.911,"hi":0.9315},{"lo":0.9315,"hi":0.952},{"lo":0.952,"hi":0.9725},{"lo":0.9725,"hi":0.993},{"lo":0.993,"hi":1.0135},{"lo":1.0135,"hi":1.034},{"lo":1.034,"hi":1.0545},{"lo":1.0545,"hi":1.075},{"lo":1.075,"hi":1.0955},{"lo":1.0955,"hi":1.116},{"lo":1.116,"hi":1.1365},{"lo":1.1365,"hi":1.157},{"lo":1.157,"hi":1.1775},{"lo":1.1775,"hi":1.198},{"lo":1.198,"hi":1.2185},{"lo":1.2185,"hi":1.239},{"lo":1.239,"hi":1.2595},{"lo":1.2595,"hi":1.28},{"lo":1.28,"hi":1.3005},{"lo":1.3005,"hi":1.321}]},
"layer":[
{"layer":[
{"data":{"name":"cells"},"mark":{"type":"rect","width":16.4,"height":16.9},"encoding":{
"x":{"field":"x","type":"quantitative","scale":{"domain":[49.5,85.5],"range":[66,632],"nice":false,"zero":false},"axis":{"orient":"bottom","offset":-77.5,"values":[50,55,60,65,70,75,80,85],"labelPadding":3}},
"y":{"field":"y","type":"quantitative","scale":{"domain":[101.5,137.5],"range":[650.5,66],"nice":false,"zero":false},"axis":{"orient":"left","offset":-66,"values":[105,110,115,120,125,130,135],"labelAngle":-90,"labelAlign":"center","labelBaseline":"bottom","labelPadding":4}},
"color":{"field":"v","type":"quantitative","legend":null,"scale":{"domain":[0.009,0.163,0.501,0.829,1.157,1.31],"range":["#00008F","#0000FF","#00FFFF","#FFFF00","#FF0000","#800000"],"interpolate":"rgb","clamp":true}}}},
{"data":{"values":[{}]},"mark":{"type":"rect","fill":null,"stroke":"black","strokeWidth":1.5},"encoding":{"x":{"datum":49.5},"x2":{"datum":85.5},"y":{"datum":101.5},"y2":{"datum":137.5}}}
]},
{"layer":[
{"data":{"name":"levels"},"mark":{"type":"rect","strokeWidth":0.6},"encoding":{"x":{"datum":87.0},"x2":{"datum":88.05},
"y":{"field":"lo","type":"quantitative","scale":{"domain":[0.009,1.321],"range":[623.5,95],"nice":false,"zero":false},"axis":{"orient":"right","offset":-40,"values":[0.2,0.4,0.6,0.8,1.0,1.2],"format":".1f","labelPadding":6}},"y2":{"field":"hi"},
"color":{"field":"lo","type":"quantitative","legend":null},
"stroke":{"field":"lo","type":"quantitative","legend":null,"scale":{"domain":[0.009,0.163,0.501,0.829,1.157,1.31],"range":["#00008F","#0000FF","#00FFFF","#FFFF00","#FF0000","#800000"],"interpolate":"rgb","clamp":true}}}},
{"data":{"values":[{}]},"mark":{"type":"rule","color":"black","strokeWidth":1.5},"encoding":{"x":{"datum":88.05},"y":{"datum":0.2},"y2":{"datum":1.2}}}
]}
],"resolve":{"scale":{"y":"independent"},"axis":{"y":"independent"}}}
